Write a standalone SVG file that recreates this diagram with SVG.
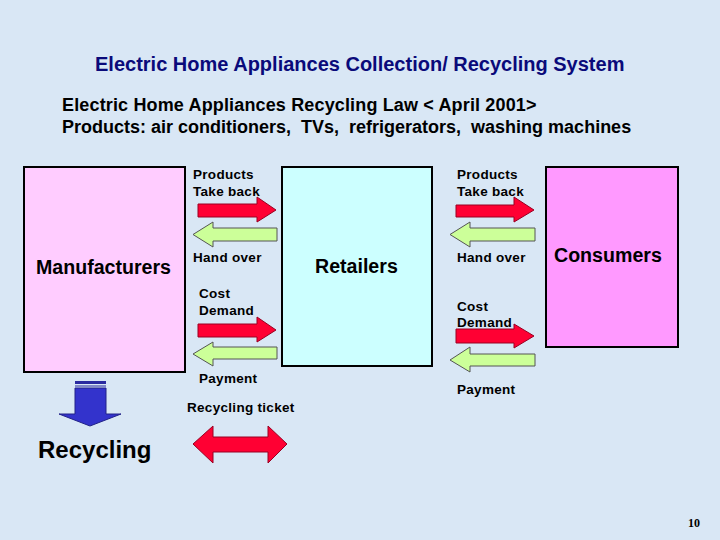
<svg xmlns="http://www.w3.org/2000/svg" width="720" height="540" viewBox="0 0 720 540">
<defs>
<style>
text{font-family:"Liberation Sans",Arial,sans-serif;font-weight:bold;fill:#000}
.lbl{font-size:13.5px;letter-spacing:0.3px}
.big{font-size:19.6px}
.box{stroke:#000;stroke-width:2}
.red{fill:#ff0033;stroke:#990022;stroke-width:1}
.grn{fill:#ccff99;stroke:#555;stroke-width:1}
</style>
</defs>
<rect width="720" height="540" fill="#d9e7f5"/>
<text x="95" y="71" font-size="20" style="fill:#0a0a7a">Electric Home Appliances Collection/ Recycling System</text>
<text x="62" y="111" font-size="18" letter-spacing="0.15">Electric Home Appliances Recycling Law &lt; April 2001&gt;</text>
<text x="62" y="133" font-size="18" xml:space="preserve">Products: air conditioners,  TVs,  refrigerators,  washing machines</text>

<g id="manufacturers">
<rect class="box" x="24" y="167" width="161" height="205" fill="#ffccff"/>
<text class="big" x="36" y="274">Manufacturers</text>
</g>
<g id="retailers">
<rect class="box" x="282" y="167" width="150" height="199" fill="#ccffff"/>
<text class="big" x="315" y="273">Retailers</text>
</g>
<g id="consumers">
<rect class="box" x="546" y="167" width="132" height="180" fill="#ff99ff"/>
<text class="big" x="554" y="262">Consumers</text>
</g>
<g id="recycling">
<rect x="75" y="381" width="31" height="3" fill="#2a2aa0"/>
<rect x="75" y="385.5" width="31" height="1" fill="#2a2aa0"/>
<path d="M75,388 H106 V414 H121 L90,426 L59,414 H75 Z" fill="#3333cc" stroke="#222288" stroke-width="1"/>
<text x="38" y="458" font-size="24">Recycling</text>
</g>

<g id="connectors">
<path class="red" d="M198,204 H257 V197 L276,210 L257,222 V217 H198 Z"/>
<path class="grn" d="M277,228 H213 V222 L193,234.5 L213,247 V241 H277 Z"/>
<path class="red" d="M198,324 H257 V317 L276,330 L257,342 V337 H198 Z"/>
<path class="grn" d="M277,347 H213 V342 L193,354 L213,366 V359 H277 Z"/>
<path class="red" d="M456,205 H514 V197 L534,210 L514,222 V217 H456 Z"/>
<path class="grn" d="M535,228 H470 V222 L450,234.5 L470,247 V241 H535 Z"/>
<path class="red" d="M456,329 H514 V324 L534,336 L514,348 V343 H456 Z"/>
<path class="grn" d="M535,354 H470 V347 L450,360 L470,372 V366 H535 Z"/>
<path class="red" d="M193,444 L213,426 V437 H268 V426 L287,444 L268,463 V452 H213 V463 Z"/>
<text class="lbl" x="193" y="179">Products</text>
<text class="lbl" x="193" y="196">Take back</text>
<text class="lbl" x="193" y="262">Hand over</text>
<text class="lbl" x="199" y="298">Cost</text>
<text class="lbl" x="199" y="315">Demand</text>
<text class="lbl" x="199" y="383">Payment</text>
<text class="lbl" x="187" y="412">Recycling ticket</text>
<text class="lbl" x="457" y="179">Products</text>
<text class="lbl" x="457" y="196">Take back</text>
<text class="lbl" x="457" y="262">Hand over</text>
<text class="lbl" x="457" y="311">Cost</text>
<text class="lbl" x="457" y="327">Demand</text>
<text class="lbl" x="457" y="394">Payment</text>
</g>
<text x="688" y="527" font-size="12" style="font-family:'Liberation Serif','Times New Roman',serif">10</text>
</svg>
